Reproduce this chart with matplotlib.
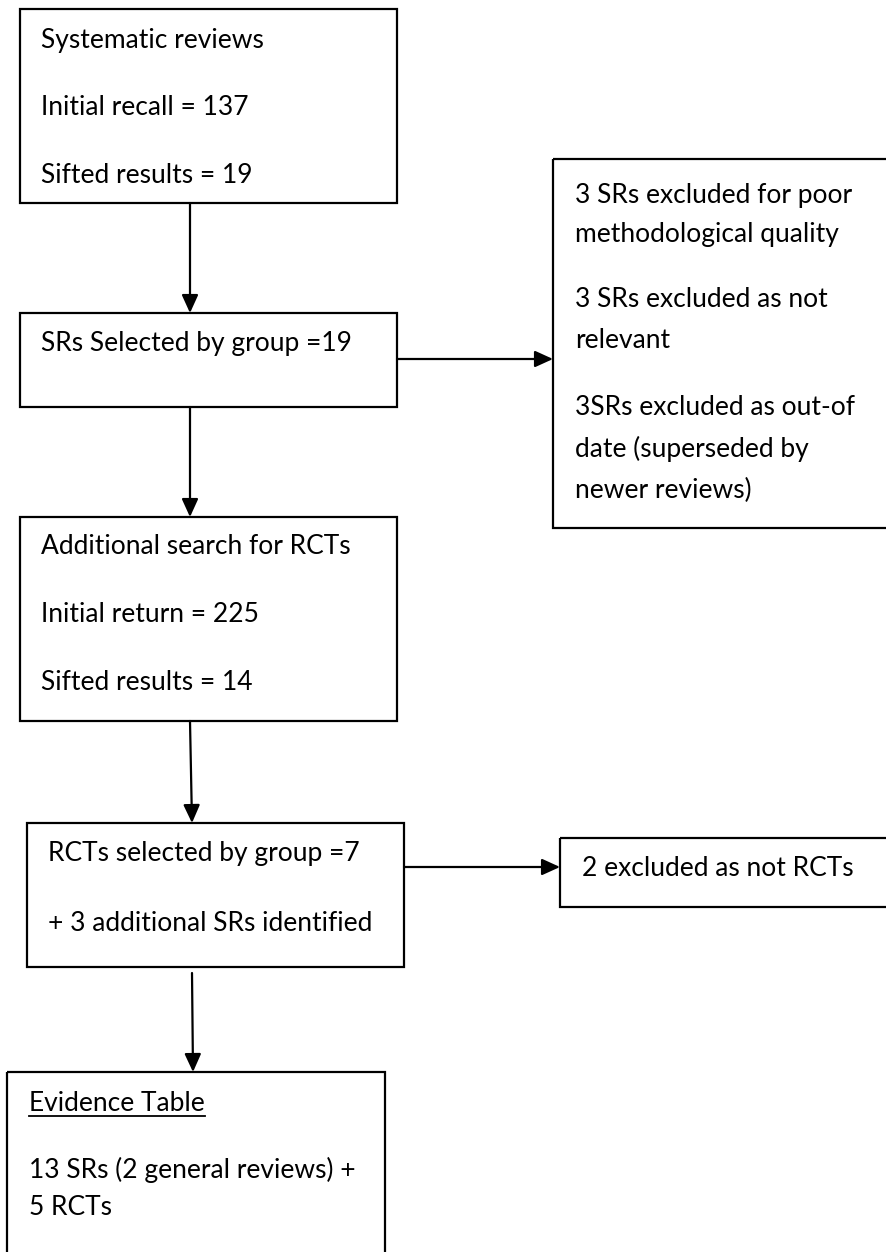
import matplotlib.pyplot as plt
from matplotlib.patches import Rectangle

# text of each box, top to bottom / left to right
box_texts = [
    ["Systematic reviews", "Initial recall = 137", "Sifted results = 19"],
    ["SRs Selected by group =19"],
    ["3 SRs excluded for poor", "methodological quality",
     "3 SRs excluded as not", "relevant",
     "3SRs excluded as out-of", "date (superseded by", "newer reviews)"],
    ["Additional search for RCTs", "Initial return = 225", "Sifted results = 14"],
    ["RCTs selected by group =7", "+ 3 additional SRs identified"],
    ["2 excluded as not RCTs"],
    ["Evidence Table", "13 SRs (2 general reviews) +", "5 RCTs"],
]

# layout in pixels (y goes down)
box_rects = [
    (20, 9, 397, 203),
    (20, 313, 397, 407),
    (553, 159, 892, 528),
    (20, 517, 397, 721),
    (27, 823, 404, 967),
    (560, 838, 892, 907),
    (7, 1072, 385, 1262),
]
text_x = [41, 41, 575, 41, 48, 582, 29]
text_baselines = [
    [48, 115, 183],
    [351],
    [203, 242, 307, 348, 415, 457, 498],
    [554, 622, 690],
    [861, 931],
    [876],
    [1111, 1178, 1215],
]
arrows = [
    (190, 203, 190, 313),
    (397, 359, 553, 359),
    (190, 407, 190, 517),
    (190, 721, 192, 823),
    (404, 867, 560, 867),
    (192, 973, 193, 1072),
]

W, H = 886, 1252
fig = plt.figure(figsize=(W / 100, H / 100), dpi=100)
ax = fig.add_axes([0, 0, 1, 1])
ax.set_xlim(0, W)
ax.set_ylim(H, 0)
ax.axis('off')

font = 'Lato'
fsize = 19

for (x0, y0, x1, y1) in box_rects:
    ax.add_patch(Rectangle((x0, y0), x1 - x0, y1 - y0, fill=False,
                           edgecolor='black', lw=1.6))

for lines, tx, ys in zip(box_texts, text_x, text_baselines):
    for s, ty in zip(lines, ys):
        ax.text(tx, ty, s, fontsize=fsize, family=font, va='baseline',
                ha='left', color='black')

# underline for the heading of the last box
fig.canvas.draw()
r = fig.canvas.get_renderer()
head = [t for t in ax.texts if t.get_text() == "Evidence Table"][0]
bb = head.get_window_extent(renderer=r).transformed(ax.transData.inverted())
ax.plot([bb.x0, bb.x1], [text_baselines[6][0] + 5] * 2, color='black', lw=1.3)

for (x0, y0, x1, y1) in arrows:
    ax.annotate('', xy=(x1, y1), xytext=(x0, y0),
                arrowprops=dict(arrowstyle='-|>,head_length=0.55,head_width=0.25',
                                mutation_scale=20, lw=1.6, color='black',
                                shrinkA=0, shrinkB=0))

fig.savefig('out.png', dpi=100, facecolor='white')
